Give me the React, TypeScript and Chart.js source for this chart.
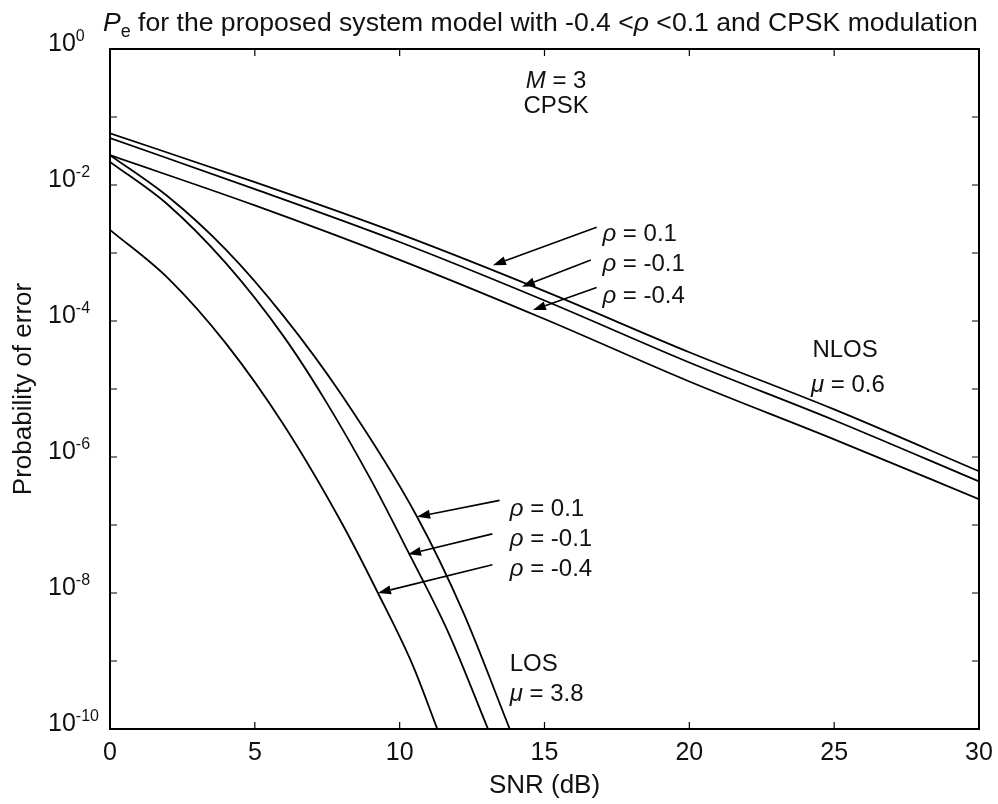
import React, { useEffect, useRef } from "react";
import { Chart, registerables } from "chart.js";

Chart.register(...registerables);

// ---- data ----
const snrTicks = [0, 5, 10, 15, 20, 25, 30];
const decadeExponents = [0, -1, -2, -3, -4, -5, -6, -7, -8, -9, -10];
const labelledExponents = [0, -2, -4, -6, -8, -10];

const nlosSnr = [0, 5, 10, 15, 20, 25, 30];
const nlosRho01 = [5.75e-2, 1.1e-2, 1.91e-3, 2.75e-4, 3.47e-5, 5.01e-6, 6.17e-7];
const nlosRhoM01 = [4.9e-2, 8.71e-3, 1.45e-3, 2.0e-4, 2.45e-5, 3.47e-6, 4.37e-7];
const nlosRhoM04 = [2.75e-2, 5.01e-3, 7.94e-4, 1.07e-4, 1.29e-5, 1.82e-6, 2.4e-7];

const losSnrRho01 = [0, 2, 4, 6, 8, 10.6, 12.2, 13.8];
const losRho01 = [2.75e-2, 6.76e-3, 1.12e-3, 1.17e-4, 8.13e-6, 1.32e-7, 5.13e-9, 1e-10];
const losSnrRhoM01 = [0, 2, 4, 6, 7.42, 9, 10.3, 11.7, 13.05];
const losRhoM01 = [2.19e-2, 5.13e-3, 7.08e-4, 5.89e-5, 6.92e-6, 4.68e-7, 3.98e-8, 2.51e-9, 1e-10];
const losSnrRhoM04 = [0, 2, 4, 6, 8, 9.25, 10.45, 11.3];
const losRhoM04 = [2.19e-3, 4.27e-4, 4.68e-5, 2.95e-6, 1.07e-7, 1.0e-8, 8.7e-10, 1e-10];

// annotation texts, anchored in data coordinates (SNR, probability)
const rhoLabels = ["0.1", "-0.1", "-0.4"];
const nlosLabelAnchors = [
  [17.0, 2.0e-3],
  [17.0, 7.1e-4],
  [17.0, 2.4e-4],
];
const nlosArrowTails = [
  [16.8, 2.4e-3],
  [16.6, 7.9e-4],
  [16.8, 3.1e-4],
];
const nlosArrowTips = [
  [13.22, 6.6e-4],
  [14.22, 3.2e-4],
  [14.6, 1.45e-4],
];
const losLabelAnchors = [
  [13.8, 1.8e-7],
  [13.8, 6.5e-8],
  [13.8, 2.35e-8],
];
const losArrowTails = [
  [13.45, 2.3e-7],
  [13.2, 7.4e-8],
  [13.2, 2.6e-8],
];
const losArrowTips = [
  [10.6, 1.32e-7],
  [10.29, 3.7e-8],
  [9.25, 1.0e-8],
];

const FAMILY = '"Liberation Sans", Arial, Helvetica, sans-serif';

type Seg = { t: string; italic?: boolean; script?: "sub" | "sup" };

function richWidth(ctx: CanvasRenderingContext2D, segs: Seg[], size: number) {
  let total = 0;
  segs.forEach((s) => {
    ctx.font = `${s.italic ? "italic " : ""}${s.script ? Math.round(size * 0.66) : size}px ${FAMILY}`;
    total += ctx.measureText(s.t).width;
  });
  return total;
}

function drawRich(
  ctx: CanvasRenderingContext2D,
  segs: Seg[],
  x: number,
  y: number,
  size: number,
  align: "left" | "center" = "left"
) {
  const fontFor = (s: Seg) =>
    `${s.italic ? "italic " : ""}${s.script ? Math.round(size * 0.66) : size}px ${FAMILY}`;
  const total = richWidth(ctx, segs, size);
  let cx = align === "center" ? x - total / 2 : x;
  ctx.textAlign = "left";
  ctx.textBaseline = "alphabetic";
  segs.forEach((s) => {
    ctx.font = fontFor(s);
    const dy = s.script === "sub" ? size * 0.22 : s.script === "sup" ? -size * 0.4 : 0;
    ctx.fillText(s.t, cx, y + dy);
    cx += ctx.measureText(s.t).width;
  });
}

function arrow(ctx: CanvasRenderingContext2D, x1: number, y1: number, x2: number, y2: number) {
  const ang = Math.atan2(y2 - y1, x2 - x1);
  const len = 13;
  const hw = 4.5;
  const bx = x2 - len * Math.cos(ang);
  const by = y2 - len * Math.sin(ang);
  ctx.beginPath();
  ctx.moveTo(x1, y1);
  ctx.lineTo(bx, by);
  ctx.lineWidth = 1.6;
  ctx.stroke();
  ctx.beginPath();
  ctx.moveTo(x2, y2);
  ctx.lineTo(bx + hw * Math.sin(ang), by - hw * Math.cos(ang));
  ctx.lineTo(bx - hw * Math.sin(ang), by + hw * Math.cos(ang));
  ctx.closePath();
  ctx.fill();
}

const titleSegs: Seg[] = [
  { t: "P", italic: true },
  { t: "e", script: "sub" },
  { t: " for the proposed system model with -0.4 <" },
  { t: "\u03C1", italic: true },
  { t: " <0.1 and CPSK modulation" },
];

const decorPlugin = {
  id: "decor",
  afterDraw(chart: any) {
    const ctx: CanvasRenderingContext2D = chart.ctx;
    const xs = chart.scales.x;
    const ys = chart.scales.y;
    const a = chart.chartArea;
    ctx.save();
    ctx.strokeStyle = "#000";
    ctx.fillStyle = "#111";

    // box
    ctx.lineWidth = 2;
    ctx.strokeRect(a.left, a.top, a.right - a.left, a.bottom - a.top);

    // x ticks (inward, bottom and top)
    ctx.lineWidth = 1.2;
    const tl = 7;
    snrTicks.forEach((v) => {
      const px = xs.getPixelForValue(v);
      ctx.beginPath();
      ctx.moveTo(px, a.bottom);
      ctx.lineTo(px, a.bottom - tl);
      ctx.moveTo(px, a.top);
      ctx.lineTo(px, a.top + tl);
      ctx.stroke();
    });
    // y ticks (inward, left and right)
    decadeExponents.forEach((e) => {
      const py = ys.getPixelForValue(Math.pow(10, e));
      ctx.beginPath();
      ctx.moveTo(a.left, py);
      ctx.lineTo(a.left + tl, py);
      ctx.moveTo(a.right, py);
      ctx.lineTo(a.right - tl, py);
      ctx.stroke();
    });

    const size = 24;
    // x tick labels
    ctx.font = `25px ${FAMILY}`;
    ctx.textAlign = "center";
    ctx.textBaseline = "alphabetic";
    snrTicks.forEach((v) => {
      ctx.fillText(String(v), xs.getPixelForValue(v), a.bottom + 31);
    });
    // y tick labels: 10^e
    labelledExponents.forEach((e) => {
      const py = ys.getPixelForValue(Math.pow(10, e));
      ctx.font = `25px ${FAMILY}`;
      ctx.textAlign = "left";
      ctx.fillText("10", 48, py + 2);
      const w = ctx.measureText("10").width;
      ctx.font = `16px ${FAMILY}`;
      ctx.fillText(String(e), 48 + w, py - 8);
    });

    // axis titles
    ctx.font = `26px ${FAMILY}`;
    ctx.textAlign = "center";
    ctx.fillText("SNR (dB)", (a.left + a.right) / 2, 793);
    ctx.save();
    ctx.translate(31, (a.top + a.bottom) / 2);
    ctx.rotate(-Math.PI / 2);
    ctx.fillText("Probability of error", 0, 0);
    ctx.restore();

    // title fitted to the plot width
    const baseW = richWidth(ctx, titleSegs, 24);
    const tSize = Math.min(28, (24 * 875) / baseW);
    drawRich(ctx, titleSegs, 103, 31, tSize);

    // in-plot annotations
    const mx = xs.getPixelForValue(15.4);
    drawRich(ctx, [{ t: "M", italic: true }, { t: " = 3" }], mx, 88, size, "center");
    drawRich(ctx, [{ t: "CPSK" }], mx, 113, size, "center");

    const P = (p: number[]) => [xs.getPixelForValue(p[0]), ys.getPixelForValue(p[1])];
    const drawRhoLabels = (anchors: number[][]) => {
      anchors.forEach((p, i) => {
        const [px, py] = P(p);
        drawRich(ctx, [{ t: "\u03C1", italic: true }, { t: " = " + rhoLabels[i] }], px, py + 8, size);
      });
    };
    drawRhoLabels(nlosLabelAnchors);
    drawRhoLabels(losLabelAnchors);

    ctx.strokeStyle = "#000";
    ctx.fillStyle = "#000";
    nlosArrowTails.forEach((t, i) => {
      const [x1, y1] = P(t);
      const [x2, y2] = P(nlosArrowTips[i]);
      arrow(ctx, x1, y1, x2, y2);
    });
    losArrowTails.forEach((t, i) => {
      const [x1, y1] = P(t);
      const [x2, y2] = P(losArrowTips[i]);
      arrow(ctx, x1, y1, x2, y2);
    });

    ctx.fillStyle = "#111";
    const [nx, ny] = P([24.25, 3.9e-5]);
    drawRich(ctx, [{ t: "NLOS" }], nx, ny + 8, size);
    const [ux, uy] = P([24.2, 1.17e-5]);
    drawRich(ctx, [{ t: "\u03BC", italic: true }, { t: " = 0.6" }], ux, uy + 8, size);
    const [lx, ly] = P([13.8, 9.3e-10]);
    drawRich(ctx, [{ t: "LOS" }], lx, ly + 8, size);
    const [lux, luy] = P([13.8, 3.4e-10]);
    drawRich(ctx, [{ t: "\u03BC", italic: true }, { t: " = 3.8" }], lux, luy + 8, size);

    ctx.restore();
  },
};

function series(xsArr: number[], ysArr: number[]) {
  return {
    data: xsArr.map((x, i) => ({ x, y: ysArr[i] })),
    borderColor: "#000",
    borderWidth: 1.8,
    pointRadius: 0,
    fill: false,
    cubicInterpolationMode: "monotone" as const,
  };
}

export default function App() {
  const ref = useRef<HTMLCanvasElement | null>(null);
  useEffect(() => {
    if (!ref.current) return;
    const chart = new Chart(ref.current, {
      type: "line",
      data: {
        datasets: [
          series(nlosSnr, nlosRho01),
          series(nlosSnr, nlosRhoM01),
          series(nlosSnr, nlosRhoM04),
          series(losSnrRho01, losRho01),
          series(losSnrRhoM01, losRhoM01),
          series(losSnrRhoM04, losRhoM04),
        ] as any,
      },
      options: {
        animation: false,
        responsive: false,
        layout: { padding: { left: 110, top: 49, right: 19, bottom: 75 } },
        plugins: { legend: { display: false }, tooltip: { enabled: false }, title: { display: false } },
        scales: {
          x: { type: "linear", min: 0, max: 30, display: false },
          y: { type: "logarithmic", min: 1e-10, max: 1, display: false },
        },
      },
      plugins: [decorPlugin],
    });
    return () => chart.destroy();
  }, []);
  return (
    <div style={{ position: "absolute", left: 0, top: 0, width: 998, height: 804, background: "#fff" }}>
      <canvas ref={ref} width={998} height={804} style={{ display: "block" }} />
    </div>
  );
}
